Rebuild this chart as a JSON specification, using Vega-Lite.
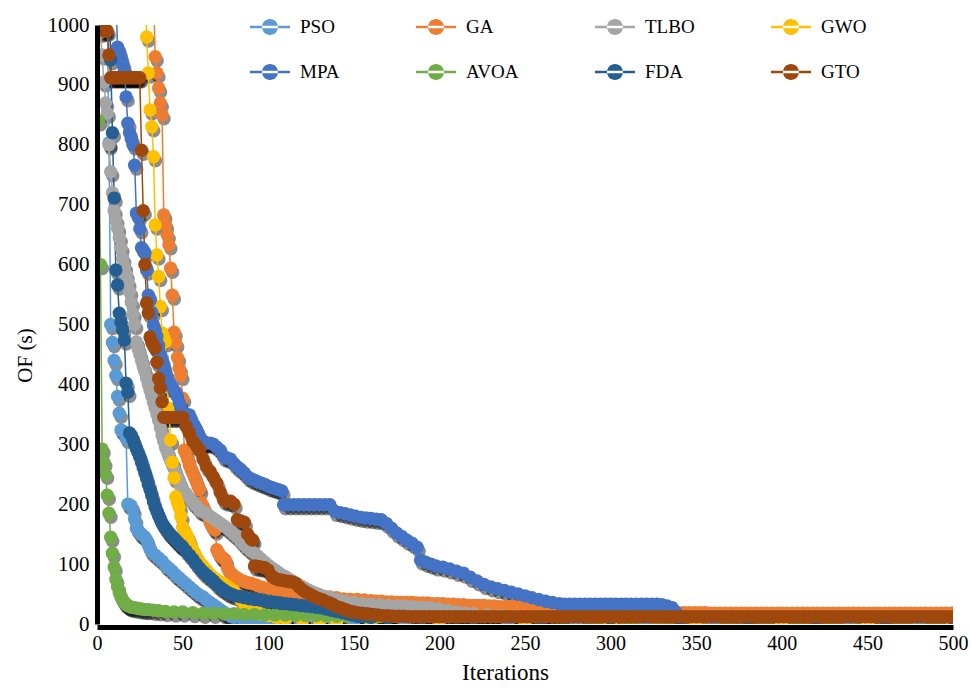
{
"$schema":"https://vega.github.io/schema/vega-lite/v6.json",
"width":856,"height":599,
"autosize":{"type":"none"},
"padding":{"left":97,"top":25,"right":18,"bottom":64},
"background":"white",
"config":{"view":{"stroke":null},"font":"Liberation Serif"},
"data":{"values":[
{"s":"PSO","i":1,"v":1400},{"s":"PSO","i":3,"v":1250},{"s":"PSO","i":5,"v":1100},{"s":"PSO","i":6,"v":1020},{"s":"PSO","i":7,"v":803},{"s":"PSO","i":8,"v":500},{"s":"PSO","i":9,"v":470},{"s":"PSO","i":10,"v":440},{"s":"PSO","i":11,"v":415},{"s":"PSO","i":12,"v":380},{"s":"PSO","i":13,"v":352},{"s":"PSO","i":14,"v":324},{"s":"PSO","i":15,"v":322},{"s":"PSO","i":16,"v":320},{"s":"PSO","i":17,"v":310},{"s":"PSO","i":18,"v":200},{"s":"PSO","i":19,"v":199},{"s":"PSO","i":20,"v":197},{"s":"PSO","i":21,"v":190},{"s":"PSO","i":22,"v":175},{"s":"PSO","i":23,"v":160},{"s":"PSO","i":24,"v":157},{"s":"PSO","i":25,"v":152},{"s":"PSO","i":26,"v":150},{"s":"PSO","i":27,"v":147},{"s":"PSO","i":28,"v":145},{"s":"PSO","i":29,"v":140},{"s":"PSO","i":30,"v":132},{"s":"PSO","i":31,"v":125},{"s":"PSO","i":32,"v":120},{"s":"PSO","i":34,"v":115},{"s":"PSO","i":36,"v":110},{"s":"PSO","i":38,"v":105},{"s":"PSO","i":40,"v":98},{"s":"PSO","i":42,"v":93},{"s":"PSO","i":44,"v":88},{"s":"PSO","i":46,"v":82},{"s":"PSO","i":48,"v":77},{"s":"PSO","i":50,"v":72},{"s":"PSO","i":52,"v":67},{"s":"PSO","i":54,"v":62},{"s":"PSO","i":56,"v":57},{"s":"PSO","i":58,"v":52},{"s":"PSO","i":60,"v":48},{"s":"PSO","i":62,"v":45},{"s":"PSO","i":64,"v":40},{"s":"PSO","i":66,"v":36},{"s":"PSO","i":68,"v":32},{"s":"PSO","i":70,"v":28},{"s":"PSO","i":72,"v":24},{"s":"PSO","i":74,"v":20},{"s":"PSO","i":76,"v":16},{"s":"PSO","i":78,"v":13},{"s":"PSO","i":80,"v":11},{"s":"PSO","i":85,"v":8},{"s":"PSO","i":90,"v":7},{"s":"PSO","i":95,"v":6},{"s":"PSO","i":100,"v":6},{"s":"PSO","i":110,"v":5},{"s":"PSO","i":120,"v":5},{"s":"PSO","i":130,"v":4},{"s":"PSO","i":140,"v":4},{"s":"PSO","i":150,"v":4},{"s":"PSO","i":160,"v":4},{"s":"PSO","i":180,"v":4},{"s":"PSO","i":200,"v":3},{"s":"PSO","i":240,"v":3},{"s":"PSO","i":280,"v":3},{"s":"PSO","i":320,"v":3},{"s":"PSO","i":360,"v":3},{"s":"PSO","i":400,"v":3},{"s":"PSO","i":440,"v":3},{"s":"PSO","i":480,"v":3},{"s":"PSO","i":500,"v":3},
{"s":"GA","i":1,"v":1500},{"s":"GA","i":10,"v":1400},{"s":"GA","i":20,"v":1300},{"s":"GA","i":30,"v":1150},{"s":"GA","i":33,"v":1050},{"s":"GA","i":34,"v":947},{"s":"GA","i":35,"v":920},{"s":"GA","i":36,"v":895},{"s":"GA","i":37,"v":870},{"s":"GA","i":38,"v":850},{"s":"GA","i":39,"v":683},{"s":"GA","i":40,"v":666},{"s":"GA","i":41,"v":650},{"s":"GA","i":42,"v":633},{"s":"GA","i":43,"v":594},{"s":"GA","i":44,"v":549},{"s":"GA","i":45,"v":487},{"s":"GA","i":46,"v":469},{"s":"GA","i":47,"v":445},{"s":"GA","i":48,"v":427},{"s":"GA","i":49,"v":415},{"s":"GA","i":50,"v":377},{"s":"GA","i":51,"v":290},{"s":"GA","i":52,"v":285},{"s":"GA","i":53,"v":275},{"s":"GA","i":54,"v":265},{"s":"GA","i":55,"v":258},{"s":"GA","i":56,"v":252},{"s":"GA","i":57,"v":245},{"s":"GA","i":58,"v":238},{"s":"GA","i":59,"v":230},{"s":"GA","i":60,"v":224},{"s":"GA","i":61,"v":202},{"s":"GA","i":62,"v":195},{"s":"GA","i":63,"v":190},{"s":"GA","i":64,"v":184},{"s":"GA","i":65,"v":179},{"s":"GA","i":66,"v":170},{"s":"GA","i":67,"v":165},{"s":"GA","i":68,"v":160},{"s":"GA","i":69,"v":157},{"s":"GA","i":70,"v":124},{"s":"GA","i":71,"v":118},{"s":"GA","i":72,"v":114},{"s":"GA","i":73,"v":111},{"s":"GA","i":74,"v":109},{"s":"GA","i":75,"v":107},{"s":"GA","i":76,"v":95},{"s":"GA","i":77,"v":90},{"s":"GA","i":78,"v":86},{"s":"GA","i":79,"v":83},{"s":"GA","i":80,"v":80},{"s":"GA","i":82,"v":77},{"s":"GA","i":84,"v":73},{"s":"GA","i":86,"v":71},{"s":"GA","i":88,"v":69},{"s":"GA","i":90,"v":68},{"s":"GA","i":93,"v":65},{"s":"GA","i":96,"v":62},{"s":"GA","i":100,"v":60},{"s":"GA","i":104,"v":58},{"s":"GA","i":108,"v":56},{"s":"GA","i":112,"v":54},{"s":"GA","i":116,"v":52},{"s":"GA","i":120,"v":50},{"s":"GA","i":124,"v":48},{"s":"GA","i":128,"v":47},{"s":"GA","i":132,"v":46},{"s":"GA","i":136,"v":45},{"s":"GA","i":140,"v":44},{"s":"GA","i":144,"v":42},{"s":"GA","i":148,"v":41},{"s":"GA","i":152,"v":41},{"s":"GA","i":156,"v":40},{"s":"GA","i":160,"v":39},{"s":"GA","i":163,"v":38},{"s":"GA","i":166,"v":38},{"s":"GA","i":169,"v":37},{"s":"GA","i":172,"v":37},{"s":"GA","i":175,"v":36},{"s":"GA","i":178,"v":36},{"s":"GA","i":181,"v":36},{"s":"GA","i":184,"v":36},{"s":"GA","i":187,"v":35},{"s":"GA","i":190,"v":35},{"s":"GA","i":193,"v":35},{"s":"GA","i":196,"v":34},{"s":"GA","i":199,"v":34},{"s":"GA","i":202,"v":34},{"s":"GA","i":205,"v":33},{"s":"GA","i":208,"v":33},{"s":"GA","i":211,"v":32},{"s":"GA","i":214,"v":32},{"s":"GA","i":217,"v":31},{"s":"GA","i":220,"v":31},{"s":"GA","i":223,"v":31},{"s":"GA","i":226,"v":31},{"s":"GA","i":229,"v":30},{"s":"GA","i":232,"v":30},{"s":"GA","i":235,"v":29},{"s":"GA","i":238,"v":29},{"s":"GA","i":241,"v":29},{"s":"GA","i":244,"v":29},{"s":"GA","i":247,"v":28},{"s":"GA","i":250,"v":28},{"s":"GA","i":253,"v":27},{"s":"GA","i":256,"v":27},{"s":"GA","i":259,"v":27},{"s":"GA","i":262,"v":26},{"s":"GA","i":265,"v":26},{"s":"GA","i":268,"v":26},{"s":"GA","i":271,"v":26},{"s":"GA","i":274,"v":25},{"s":"GA","i":277,"v":25},{"s":"GA","i":280,"v":25},{"s":"GA","i":283,"v":24},{"s":"GA","i":286,"v":24},{"s":"GA","i":289,"v":24},{"s":"GA","i":292,"v":23},{"s":"GA","i":295,"v":23},{"s":"GA","i":298,"v":23},{"s":"GA","i":301,"v":22},{"s":"GA","i":304,"v":22},{"s":"GA","i":307,"v":22},{"s":"GA","i":310,"v":21},{"s":"GA","i":313,"v":21},{"s":"GA","i":316,"v":21},{"s":"GA","i":319,"v":21},{"s":"GA","i":322,"v":20},{"s":"GA","i":325,"v":20},{"s":"GA","i":328,"v":20},{"s":"GA","i":331,"v":20},{"s":"GA","i":334,"v":20},{"s":"GA","i":337,"v":19},{"s":"GA","i":340,"v":19},{"s":"GA","i":343,"v":19},{"s":"GA","i":346,"v":19},{"s":"GA","i":349,"v":19},{"s":"GA","i":352,"v":19},{"s":"GA","i":355,"v":19},{"s":"GA","i":358,"v":18},{"s":"GA","i":361,"v":18},{"s":"GA","i":364,"v":18},{"s":"GA","i":367,"v":18},{"s":"GA","i":370,"v":18},{"s":"GA","i":373,"v":18},{"s":"GA","i":376,"v":18},{"s":"GA","i":379,"v":18},{"s":"GA","i":382,"v":18},{"s":"GA","i":385,"v":18},{"s":"GA","i":388,"v":18},{"s":"GA","i":391,"v":18},{"s":"GA","i":394,"v":18},{"s":"GA","i":397,"v":18},{"s":"GA","i":400,"v":18},{"s":"GA","i":403,"v":18},{"s":"GA","i":406,"v":18},{"s":"GA","i":409,"v":18},{"s":"GA","i":412,"v":18},{"s":"GA","i":415,"v":18},{"s":"GA","i":418,"v":18},{"s":"GA","i":421,"v":18},{"s":"GA","i":424,"v":18},{"s":"GA","i":427,"v":18},{"s":"GA","i":430,"v":18},{"s":"GA","i":433,"v":18},{"s":"GA","i":436,"v":18},{"s":"GA","i":439,"v":18},{"s":"GA","i":442,"v":18},{"s":"GA","i":445,"v":18},{"s":"GA","i":448,"v":18},{"s":"GA","i":451,"v":18},{"s":"GA","i":454,"v":18},{"s":"GA","i":457,"v":18},{"s":"GA","i":460,"v":18},{"s":"GA","i":463,"v":18},{"s":"GA","i":466,"v":18},{"s":"GA","i":469,"v":18},{"s":"GA","i":472,"v":18},{"s":"GA","i":475,"v":18},{"s":"GA","i":478,"v":18},{"s":"GA","i":481,"v":18},{"s":"GA","i":484,"v":18},{"s":"GA","i":487,"v":18},{"s":"GA","i":490,"v":18},{"s":"GA","i":493,"v":18},{"s":"GA","i":496,"v":18},{"s":"GA","i":499,"v":18},{"s":"GA","i":500,"v":18},
{"s":"TLBO","i":1,"v":1050},{"s":"TLBO","i":2,"v":988},{"s":"TLBO","i":3,"v":950},{"s":"TLBO","i":4,"v":905},{"s":"TLBO","i":5,"v":870},{"s":"TLBO","i":6,"v":853},{"s":"TLBO","i":7,"v":800},{"s":"TLBO","i":8,"v":755},{"s":"TLBO","i":9,"v":720},{"s":"TLBO","i":10,"v":690},{"s":"TLBO","i":11,"v":675},{"s":"TLBO","i":12,"v":661},{"s":"TLBO","i":13,"v":645},{"s":"TLBO","i":14,"v":628},{"s":"TLBO","i":15,"v":610},{"s":"TLBO","i":16,"v":597},{"s":"TLBO","i":17,"v":583},{"s":"TLBO","i":18,"v":570},{"s":"TLBO","i":19,"v":555},{"s":"TLBO","i":20,"v":537},{"s":"TLBO","i":21,"v":518},{"s":"TLBO","i":22,"v":500},{"s":"TLBO","i":23,"v":471},{"s":"TLBO","i":24,"v":460},{"s":"TLBO","i":25,"v":450},{"s":"TLBO","i":26,"v":440},{"s":"TLBO","i":27,"v":430},{"s":"TLBO","i":28,"v":421},{"s":"TLBO","i":29,"v":410},{"s":"TLBO","i":30,"v":400},{"s":"TLBO","i":31,"v":390},{"s":"TLBO","i":32,"v":380},{"s":"TLBO","i":33,"v":370},{"s":"TLBO","i":34,"v":360},{"s":"TLBO","i":35,"v":350},{"s":"TLBO","i":36,"v":340},{"s":"TLBO","i":37,"v":328},{"s":"TLBO","i":38,"v":315},{"s":"TLBO","i":39,"v":305},{"s":"TLBO","i":40,"v":295},{"s":"TLBO","i":41,"v":288},{"s":"TLBO","i":42,"v":280},{"s":"TLBO","i":43,"v":273},{"s":"TLBO","i":44,"v":266},{"s":"TLBO","i":45,"v":260},{"s":"TLBO","i":46,"v":252},{"s":"TLBO","i":47,"v":245},{"s":"TLBO","i":48,"v":238},{"s":"TLBO","i":49,"v":231},{"s":"TLBO","i":50,"v":225},{"s":"TLBO","i":52,"v":218},{"s":"TLBO","i":54,"v":210},{"s":"TLBO","i":56,"v":203},{"s":"TLBO","i":58,"v":197},{"s":"TLBO","i":60,"v":190},{"s":"TLBO","i":62,"v":187},{"s":"TLBO","i":64,"v":184},{"s":"TLBO","i":66,"v":180},{"s":"TLBO","i":68,"v":176},{"s":"TLBO","i":70,"v":172},{"s":"TLBO","i":72,"v":168},{"s":"TLBO","i":74,"v":164},{"s":"TLBO","i":76,"v":160},{"s":"TLBO","i":78,"v":155},{"s":"TLBO","i":80,"v":150},{"s":"TLBO","i":82,"v":145},{"s":"TLBO","i":84,"v":138},{"s":"TLBO","i":86,"v":132},{"s":"TLBO","i":88,"v":127},{"s":"TLBO","i":90,"v":122},{"s":"TLBO","i":92,"v":118},{"s":"TLBO","i":94,"v":113},{"s":"TLBO","i":96,"v":108},{"s":"TLBO","i":98,"v":103},{"s":"TLBO","i":100,"v":98},{"s":"TLBO","i":102,"v":94},{"s":"TLBO","i":104,"v":90},{"s":"TLBO","i":106,"v":86},{"s":"TLBO","i":108,"v":82},{"s":"TLBO","i":110,"v":79},{"s":"TLBO","i":112,"v":75},{"s":"TLBO","i":114,"v":72},{"s":"TLBO","i":116,"v":68},{"s":"TLBO","i":118,"v":65},{"s":"TLBO","i":120,"v":62},{"s":"TLBO","i":122,"v":59},{"s":"TLBO","i":124,"v":56},{"s":"TLBO","i":126,"v":53},{"s":"TLBO","i":128,"v":51},{"s":"TLBO","i":130,"v":49},{"s":"TLBO","i":133,"v":46},{"s":"TLBO","i":136,"v":44},{"s":"TLBO","i":140,"v":41},{"s":"TLBO","i":145,"v":38},{"s":"TLBO","i":150,"v":36},{"s":"TLBO","i":155,"v":34},{"s":"TLBO","i":160,"v":33},{"s":"TLBO","i":165,"v":32},{"s":"TLBO","i":170,"v":31},{"s":"TLBO","i":175,"v":30},{"s":"TLBO","i":180,"v":30},{"s":"TLBO","i":185,"v":29},{"s":"TLBO","i":190,"v":28},{"s":"TLBO","i":195,"v":27},{"s":"TLBO","i":200,"v":25},{"s":"TLBO","i":205,"v":22},{"s":"TLBO","i":210,"v":20},{"s":"TLBO","i":215,"v":18},{"s":"TLBO","i":220,"v":17},{"s":"TLBO","i":228,"v":15},{"s":"TLBO","i":236,"v":14},{"s":"TLBO","i":245,"v":13},{"s":"TLBO","i":260,"v":12},{"s":"TLBO","i":300,"v":12},{"s":"TLBO","i":340,"v":11},{"s":"TLBO","i":380,"v":11},{"s":"TLBO","i":420,"v":11},{"s":"TLBO","i":460,"v":11},{"s":"TLBO","i":500,"v":11},
{"s":"GWO","i":1,"v":1500},{"s":"GWO","i":10,"v":1400},{"s":"GWO","i":20,"v":1250},{"s":"GWO","i":27,"v":1100},{"s":"GWO","i":28,"v":1050},{"s":"GWO","i":29,"v":980},{"s":"GWO","i":30,"v":920},{"s":"GWO","i":31,"v":858},{"s":"GWO","i":32,"v":830},{"s":"GWO","i":33,"v":780},{"s":"GWO","i":34,"v":666},{"s":"GWO","i":35,"v":616},{"s":"GWO","i":36,"v":580},{"s":"GWO","i":37,"v":530},{"s":"GWO","i":38,"v":486},{"s":"GWO","i":39,"v":478},{"s":"GWO","i":40,"v":471},{"s":"GWO","i":41,"v":396},{"s":"GWO","i":42,"v":360},{"s":"GWO","i":43,"v":307},{"s":"GWO","i":44,"v":270},{"s":"GWO","i":45,"v":244},{"s":"GWO","i":46,"v":212},{"s":"GWO","i":47,"v":203},{"s":"GWO","i":48,"v":195},{"s":"GWO","i":49,"v":180},{"s":"GWO","i":50,"v":162},{"s":"GWO","i":51,"v":155},{"s":"GWO","i":52,"v":150},{"s":"GWO","i":53,"v":145},{"s":"GWO","i":54,"v":137},{"s":"GWO","i":55,"v":129},{"s":"GWO","i":56,"v":123},{"s":"GWO","i":57,"v":117},{"s":"GWO","i":58,"v":112},{"s":"GWO","i":59,"v":107},{"s":"GWO","i":60,"v":103},{"s":"GWO","i":62,"v":97},{"s":"GWO","i":64,"v":90},{"s":"GWO","i":66,"v":83},{"s":"GWO","i":68,"v":78},{"s":"GWO","i":70,"v":74},{"s":"GWO","i":72,"v":70},{"s":"GWO","i":74,"v":67},{"s":"GWO","i":76,"v":63},{"s":"GWO","i":78,"v":59},{"s":"GWO","i":80,"v":55},{"s":"GWO","i":82,"v":48},{"s":"GWO","i":84,"v":40},{"s":"GWO","i":86,"v":34},{"s":"GWO","i":88,"v":29},{"s":"GWO","i":90,"v":25},{"s":"GWO","i":93,"v":21},{"s":"GWO","i":96,"v":17},{"s":"GWO","i":100,"v":14},{"s":"GWO","i":105,"v":11},{"s":"GWO","i":110,"v":9},{"s":"GWO","i":120,"v":7},{"s":"GWO","i":130,"v":6},{"s":"GWO","i":140,"v":5},{"s":"GWO","i":160,"v":4},{"s":"GWO","i":200,"v":3},{"s":"GWO","i":250,"v":3},{"s":"GWO","i":300,"v":2},{"s":"GWO","i":350,"v":2},{"s":"GWO","i":400,"v":2},{"s":"GWO","i":450,"v":2},{"s":"GWO","i":500,"v":2},
{"s":"MPA","i":1,"v":1500},{"s":"MPA","i":5,"v":1350},{"s":"MPA","i":10,"v":1100},{"s":"MPA","i":11,"v":1050},{"s":"MPA","i":12,"v":963},{"s":"MPA","i":13,"v":955},{"s":"MPA","i":14,"v":945},{"s":"MPA","i":15,"v":935},{"s":"MPA","i":16,"v":925},{"s":"MPA","i":17,"v":880},{"s":"MPA","i":18,"v":836},{"s":"MPA","i":19,"v":820},{"s":"MPA","i":20,"v":810},{"s":"MPA","i":21,"v":800},{"s":"MPA","i":22,"v":766},{"s":"MPA","i":23,"v":686},{"s":"MPA","i":24,"v":680},{"s":"MPA","i":25,"v":660},{"s":"MPA","i":26,"v":628},{"s":"MPA","i":27,"v":625},{"s":"MPA","i":28,"v":620},{"s":"MPA","i":29,"v":591},{"s":"MPA","i":30,"v":549},{"s":"MPA","i":31,"v":540},{"s":"MPA","i":32,"v":520},{"s":"MPA","i":33,"v":499},{"s":"MPA","i":34,"v":490},{"s":"MPA","i":35,"v":480},{"s":"MPA","i":36,"v":465},{"s":"MPA","i":37,"v":450},{"s":"MPA","i":38,"v":440},{"s":"MPA","i":39,"v":430},{"s":"MPA","i":40,"v":420},{"s":"MPA","i":41,"v":411},{"s":"MPA","i":42,"v":405},{"s":"MPA","i":43,"v":400},{"s":"MPA","i":44,"v":395},{"s":"MPA","i":45,"v":390},{"s":"MPA","i":46,"v":387},{"s":"MPA","i":47,"v":380},{"s":"MPA","i":48,"v":370},{"s":"MPA","i":49,"v":360},{"s":"MPA","i":50,"v":352},{"s":"MPA","i":51,"v":350},{"s":"MPA","i":52,"v":350},{"s":"MPA","i":53,"v":349},{"s":"MPA","i":54,"v":349},{"s":"MPA","i":55,"v":340},{"s":"MPA","i":56,"v":335},{"s":"MPA","i":57,"v":330},{"s":"MPA","i":58,"v":325},{"s":"MPA","i":59,"v":318},{"s":"MPA","i":60,"v":312},{"s":"MPA","i":61,"v":308},{"s":"MPA","i":62,"v":305},{"s":"MPA","i":63,"v":303},{"s":"MPA","i":64,"v":302},{"s":"MPA","i":66,"v":302},{"s":"MPA","i":68,"v":300},{"s":"MPA","i":70,"v":295},{"s":"MPA","i":72,"v":290},{"s":"MPA","i":74,"v":279},{"s":"MPA","i":76,"v":277},{"s":"MPA","i":78,"v":275},{"s":"MPA","i":80,"v":268},{"s":"MPA","i":82,"v":262},{"s":"MPA","i":84,"v":258},{"s":"MPA","i":86,"v":252},{"s":"MPA","i":88,"v":246},{"s":"MPA","i":90,"v":242},{"s":"MPA","i":92,"v":240},{"s":"MPA","i":94,"v":237},{"s":"MPA","i":96,"v":235},{"s":"MPA","i":98,"v":233},{"s":"MPA","i":100,"v":230},{"s":"MPA","i":102,"v":228},{"s":"MPA","i":104,"v":226},{"s":"MPA","i":106,"v":224},{"s":"MPA","i":108,"v":222},{"s":"MPA","i":109,"v":199},{"s":"MPA","i":112,"v":199},{"s":"MPA","i":115,"v":199},{"s":"MPA","i":118,"v":199},{"s":"MPA","i":121,"v":199},{"s":"MPA","i":124,"v":199},{"s":"MPA","i":127,"v":199},{"s":"MPA","i":130,"v":199},{"s":"MPA","i":133,"v":199},{"s":"MPA","i":136,"v":199},{"s":"MPA","i":139,"v":188},{"s":"MPA","i":142,"v":186},{"s":"MPA","i":145,"v":184},{"s":"MPA","i":148,"v":182},{"s":"MPA","i":151,"v":180},{"s":"MPA","i":154,"v":178},{"s":"MPA","i":157,"v":177},{"s":"MPA","i":160,"v":176},{"s":"MPA","i":163,"v":175},{"s":"MPA","i":166,"v":174},{"s":"MPA","i":169,"v":168},{"s":"MPA","i":172,"v":160},{"s":"MPA","i":175,"v":152},{"s":"MPA","i":178,"v":146},{"s":"MPA","i":181,"v":140},{"s":"MPA","i":184,"v":135},{"s":"MPA","i":187,"v":128},{"s":"MPA","i":189,"v":107},{"s":"MPA","i":192,"v":103},{"s":"MPA","i":195,"v":100},{"s":"MPA","i":198,"v":97},{"s":"MPA","i":202,"v":95},{"s":"MPA","i":206,"v":92},{"s":"MPA","i":210,"v":88},{"s":"MPA","i":214,"v":85},{"s":"MPA","i":218,"v":78},{"s":"MPA","i":222,"v":72},{"s":"MPA","i":226,"v":66},{"s":"MPA","i":230,"v":62},{"s":"MPA","i":234,"v":59},{"s":"MPA","i":238,"v":56},{"s":"MPA","i":242,"v":53},{"s":"MPA","i":246,"v":50},{"s":"MPA","i":250,"v":47},{"s":"MPA","i":254,"v":44},{"s":"MPA","i":258,"v":41},{"s":"MPA","i":262,"v":38},{"s":"MPA","i":266,"v":36},{"s":"MPA","i":270,"v":34},{"s":"MPA","i":273,"v":33},{"s":"MPA","i":276,"v":33},{"s":"MPA","i":279,"v":33},{"s":"MPA","i":282,"v":33},{"s":"MPA","i":285,"v":33},{"s":"MPA","i":288,"v":33},{"s":"MPA","i":291,"v":33},{"s":"MPA","i":294,"v":33},{"s":"MPA","i":297,"v":33},{"s":"MPA","i":300,"v":33},{"s":"MPA","i":303,"v":33},{"s":"MPA","i":306,"v":33},{"s":"MPA","i":309,"v":33},{"s":"MPA","i":312,"v":33},{"s":"MPA","i":315,"v":33},{"s":"MPA","i":318,"v":33},{"s":"MPA","i":321,"v":33},{"s":"MPA","i":324,"v":33},{"s":"MPA","i":327,"v":33},{"s":"MPA","i":330,"v":32},{"s":"MPA","i":333,"v":30},{"s":"MPA","i":336,"v":27},{"s":"MPA","i":338,"v":20},{"s":"MPA","i":340,"v":14},{"s":"MPA","i":344,"v":12},{"s":"MPA","i":360,"v":12},{"s":"MPA","i":380,"v":11},{"s":"MPA","i":420,"v":11},{"s":"MPA","i":460,"v":11},{"s":"MPA","i":500,"v":11},
{"s":"AVOA","i":1,"v":840},{"s":"AVOA","i":2,"v":600},{"s":"AVOA","i":3,"v":292},{"s":"AVOA","i":4,"v":270},{"s":"AVOA","i":5,"v":250},{"s":"AVOA","i":6,"v":215},{"s":"AVOA","i":7,"v":185},{"s":"AVOA","i":8,"v":145},{"s":"AVOA","i":9,"v":118},{"s":"AVOA","i":10,"v":95},{"s":"AVOA","i":11,"v":75},{"s":"AVOA","i":12,"v":62},{"s":"AVOA","i":13,"v":52},{"s":"AVOA","i":14,"v":45},{"s":"AVOA","i":15,"v":40},{"s":"AVOA","i":16,"v":36},{"s":"AVOA","i":17,"v":33},{"s":"AVOA","i":18,"v":31},{"s":"AVOA","i":19,"v":29},{"s":"AVOA","i":20,"v":28},{"s":"AVOA","i":22,"v":27},{"s":"AVOA","i":24,"v":26},{"s":"AVOA","i":26,"v":25},{"s":"AVOA","i":28,"v":24},{"s":"AVOA","i":30,"v":24},{"s":"AVOA","i":33,"v":23},{"s":"AVOA","i":36,"v":22},{"s":"AVOA","i":40,"v":21},{"s":"AVOA","i":45,"v":20},{"s":"AVOA","i":50,"v":20},{"s":"AVOA","i":56,"v":19},{"s":"AVOA","i":62,"v":18},{"s":"AVOA","i":68,"v":18},{"s":"AVOA","i":74,"v":17},{"s":"AVOA","i":80,"v":17},{"s":"AVOA","i":86,"v":16},{"s":"AVOA","i":92,"v":16},{"s":"AVOA","i":98,"v":15},{"s":"AVOA","i":104,"v":15},{"s":"AVOA","i":110,"v":15},{"s":"AVOA","i":116,"v":14},{"s":"AVOA","i":122,"v":14},{"s":"AVOA","i":128,"v":14},{"s":"AVOA","i":134,"v":13},{"s":"AVOA","i":140,"v":13},{"s":"AVOA","i":146,"v":13},{"s":"AVOA","i":152,"v":13},{"s":"AVOA","i":158,"v":12},{"s":"AVOA","i":164,"v":12},{"s":"AVOA","i":170,"v":12},{"s":"AVOA","i":190,"v":12},{"s":"AVOA","i":210,"v":12},{"s":"AVOA","i":230,"v":12},{"s":"AVOA","i":260,"v":12},{"s":"AVOA","i":300,"v":11},{"s":"AVOA","i":340,"v":11},{"s":"AVOA","i":380,"v":11},{"s":"AVOA","i":420,"v":11},{"s":"AVOA","i":460,"v":11},{"s":"AVOA","i":500,"v":11},
{"s":"FDA","i":1,"v":1500},{"s":"FDA","i":4,"v":1250},{"s":"FDA","i":7,"v":1050},{"s":"FDA","i":8,"v":942},{"s":"FDA","i":9,"v":820},{"s":"FDA","i":10,"v":711},{"s":"FDA","i":11,"v":591},{"s":"FDA","i":12,"v":566},{"s":"FDA","i":13,"v":519},{"s":"FDA","i":14,"v":504},{"s":"FDA","i":15,"v":491},{"s":"FDA","i":16,"v":474},{"s":"FDA","i":17,"v":402},{"s":"FDA","i":18,"v":387},{"s":"FDA","i":19,"v":319},{"s":"FDA","i":20,"v":315},{"s":"FDA","i":21,"v":308},{"s":"FDA","i":22,"v":300},{"s":"FDA","i":23,"v":293},{"s":"FDA","i":24,"v":286},{"s":"FDA","i":25,"v":279},{"s":"FDA","i":26,"v":270},{"s":"FDA","i":27,"v":261},{"s":"FDA","i":28,"v":252},{"s":"FDA","i":29,"v":243},{"s":"FDA","i":30,"v":233},{"s":"FDA","i":31,"v":224},{"s":"FDA","i":32,"v":214},{"s":"FDA","i":33,"v":204},{"s":"FDA","i":34,"v":195},{"s":"FDA","i":35,"v":188},{"s":"FDA","i":36,"v":181},{"s":"FDA","i":37,"v":174},{"s":"FDA","i":38,"v":168},{"s":"FDA","i":39,"v":164},{"s":"FDA","i":40,"v":160},{"s":"FDA","i":41,"v":156},{"s":"FDA","i":42,"v":152},{"s":"FDA","i":43,"v":149},{"s":"FDA","i":44,"v":146},{"s":"FDA","i":45,"v":143},{"s":"FDA","i":46,"v":140},{"s":"FDA","i":47,"v":137},{"s":"FDA","i":48,"v":134},{"s":"FDA","i":49,"v":131},{"s":"FDA","i":50,"v":129},{"s":"FDA","i":52,"v":122},{"s":"FDA","i":54,"v":115},{"s":"FDA","i":56,"v":108},{"s":"FDA","i":58,"v":100},{"s":"FDA","i":60,"v":93},{"s":"FDA","i":62,"v":87},{"s":"FDA","i":64,"v":82},{"s":"FDA","i":66,"v":77},{"s":"FDA","i":68,"v":72},{"s":"FDA","i":70,"v":66},{"s":"FDA","i":72,"v":61},{"s":"FDA","i":74,"v":57},{"s":"FDA","i":76,"v":53},{"s":"FDA","i":78,"v":50},{"s":"FDA","i":80,"v":48},{"s":"FDA","i":83,"v":46},{"s":"FDA","i":86,"v":44},{"s":"FDA","i":89,"v":42},{"s":"FDA","i":92,"v":41},{"s":"FDA","i":95,"v":40},{"s":"FDA","i":98,"v":38},{"s":"FDA","i":101,"v":37},{"s":"FDA","i":104,"v":36},{"s":"FDA","i":107,"v":35},{"s":"FDA","i":110,"v":34},{"s":"FDA","i":113,"v":33},{"s":"FDA","i":116,"v":32},{"s":"FDA","i":119,"v":31},{"s":"FDA","i":122,"v":30},{"s":"FDA","i":125,"v":29},{"s":"FDA","i":128,"v":28},{"s":"FDA","i":131,"v":27},{"s":"FDA","i":134,"v":25},{"s":"FDA","i":137,"v":23},{"s":"FDA","i":140,"v":21},{"s":"FDA","i":143,"v":19},{"s":"FDA","i":146,"v":17},{"s":"FDA","i":149,"v":15},{"s":"FDA","i":152,"v":13},{"s":"FDA","i":155,"v":12},{"s":"FDA","i":160,"v":11},{"s":"FDA","i":170,"v":10},{"s":"FDA","i":190,"v":10},{"s":"FDA","i":220,"v":10},{"s":"FDA","i":260,"v":9},{"s":"FDA","i":300,"v":9},{"s":"FDA","i":340,"v":9},{"s":"FDA","i":380,"v":9},{"s":"FDA","i":420,"v":9},{"s":"FDA","i":460,"v":9},{"s":"FDA","i":500,"v":9},
{"s":"GTO","i":1,"v":1100},{"s":"GTO","i":2,"v":1050},{"s":"GTO","i":3,"v":1020},{"s":"GTO","i":4,"v":990},{"s":"GTO","i":5,"v":990},{"s":"GTO","i":6,"v":990},{"s":"GTO","i":7,"v":950},{"s":"GTO","i":8,"v":912},{"s":"GTO","i":9,"v":912},{"s":"GTO","i":10,"v":912},{"s":"GTO","i":11,"v":912},{"s":"GTO","i":12,"v":912},{"s":"GTO","i":13,"v":912},{"s":"GTO","i":14,"v":912},{"s":"GTO","i":15,"v":912},{"s":"GTO","i":16,"v":912},{"s":"GTO","i":17,"v":912},{"s":"GTO","i":18,"v":912},{"s":"GTO","i":19,"v":912},{"s":"GTO","i":20,"v":912},{"s":"GTO","i":21,"v":912},{"s":"GTO","i":22,"v":912},{"s":"GTO","i":23,"v":912},{"s":"GTO","i":24,"v":912},{"s":"GTO","i":25,"v":912},{"s":"GTO","i":26,"v":791},{"s":"GTO","i":27,"v":690},{"s":"GTO","i":28,"v":600},{"s":"GTO","i":29,"v":536},{"s":"GTO","i":30,"v":519},{"s":"GTO","i":31,"v":479},{"s":"GTO","i":32,"v":470},{"s":"GTO","i":33,"v":465},{"s":"GTO","i":34,"v":461},{"s":"GTO","i":35,"v":437},{"s":"GTO","i":36,"v":410},{"s":"GTO","i":37,"v":394},{"s":"GTO","i":38,"v":371},{"s":"GTO","i":39,"v":345},{"s":"GTO","i":40,"v":345},{"s":"GTO","i":42,"v":345},{"s":"GTO","i":44,"v":345},{"s":"GTO","i":46,"v":345},{"s":"GTO","i":48,"v":345},{"s":"GTO","i":50,"v":345},{"s":"GTO","i":52,"v":330},{"s":"GTO","i":54,"v":319},{"s":"GTO","i":56,"v":305},{"s":"GTO","i":58,"v":298},{"s":"GTO","i":60,"v":290},{"s":"GTO","i":62,"v":275},{"s":"GTO","i":64,"v":262},{"s":"GTO","i":66,"v":255},{"s":"GTO","i":68,"v":245},{"s":"GTO","i":70,"v":235},{"s":"GTO","i":72,"v":220},{"s":"GTO","i":74,"v":207},{"s":"GTO","i":76,"v":205},{"s":"GTO","i":78,"v":205},{"s":"GTO","i":80,"v":200},{"s":"GTO","i":82,"v":174},{"s":"GTO","i":84,"v":172},{"s":"GTO","i":86,"v":170},{"s":"GTO","i":88,"v":150},{"s":"GTO","i":90,"v":142},{"s":"GTO","i":91,"v":140},{"s":"GTO","i":92,"v":97},{"s":"GTO","i":94,"v":96},{"s":"GTO","i":96,"v":95},{"s":"GTO","i":98,"v":94},{"s":"GTO","i":100,"v":90},{"s":"GTO","i":102,"v":80},{"s":"GTO","i":104,"v":76},{"s":"GTO","i":106,"v":74},{"s":"GTO","i":108,"v":73},{"s":"GTO","i":110,"v":72},{"s":"GTO","i":112,"v":71},{"s":"GTO","i":114,"v":70},{"s":"GTO","i":116,"v":68},{"s":"GTO","i":118,"v":62},{"s":"GTO","i":120,"v":57},{"s":"GTO","i":122,"v":53},{"s":"GTO","i":124,"v":50},{"s":"GTO","i":126,"v":47},{"s":"GTO","i":128,"v":44},{"s":"GTO","i":130,"v":42},{"s":"GTO","i":132,"v":40},{"s":"GTO","i":134,"v":37},{"s":"GTO","i":136,"v":35},{"s":"GTO","i":138,"v":32},{"s":"GTO","i":140,"v":29},{"s":"GTO","i":142,"v":27},{"s":"GTO","i":144,"v":25},{"s":"GTO","i":146,"v":23},{"s":"GTO","i":148,"v":21},{"s":"GTO","i":150,"v":20},{"s":"GTO","i":152,"v":19},{"s":"GTO","i":155,"v":18},{"s":"GTO","i":158,"v":17},{"s":"GTO","i":161,"v":16},{"s":"GTO","i":164,"v":15},{"s":"GTO","i":167,"v":14},{"s":"GTO","i":170,"v":14},{"s":"GTO","i":173,"v":13},{"s":"GTO","i":176,"v":13},{"s":"GTO","i":179,"v":13},{"s":"GTO","i":182,"v":12},{"s":"GTO","i":185,"v":12},{"s":"GTO","i":188,"v":12},{"s":"GTO","i":191,"v":12},{"s":"GTO","i":194,"v":12},{"s":"GTO","i":197,"v":12},{"s":"GTO","i":200,"v":12},{"s":"GTO","i":203,"v":12},{"s":"GTO","i":206,"v":12},{"s":"GTO","i":209,"v":12},{"s":"GTO","i":212,"v":12},{"s":"GTO","i":215,"v":12},{"s":"GTO","i":218,"v":12},{"s":"GTO","i":221,"v":12},{"s":"GTO","i":224,"v":12},{"s":"GTO","i":227,"v":12},{"s":"GTO","i":230,"v":12},{"s":"GTO","i":233,"v":12},{"s":"GTO","i":236,"v":12},{"s":"GTO","i":239,"v":12},{"s":"GTO","i":242,"v":12},{"s":"GTO","i":245,"v":12},{"s":"GTO","i":248,"v":12},{"s":"GTO","i":251,"v":12},{"s":"GTO","i":254,"v":12},{"s":"GTO","i":257,"v":12},{"s":"GTO","i":260,"v":12},{"s":"GTO","i":263,"v":12},{"s":"GTO","i":266,"v":12},{"s":"GTO","i":269,"v":12},{"s":"GTO","i":272,"v":12},{"s":"GTO","i":275,"v":12},{"s":"GTO","i":278,"v":12},{"s":"GTO","i":281,"v":12},{"s":"GTO","i":284,"v":12},{"s":"GTO","i":287,"v":12},{"s":"GTO","i":290,"v":12},{"s":"GTO","i":293,"v":12},{"s":"GTO","i":296,"v":12},{"s":"GTO","i":299,"v":12},{"s":"GTO","i":302,"v":12},{"s":"GTO","i":305,"v":12},{"s":"GTO","i":308,"v":12},{"s":"GTO","i":311,"v":12},{"s":"GTO","i":314,"v":12},{"s":"GTO","i":317,"v":12},{"s":"GTO","i":320,"v":12},{"s":"GTO","i":323,"v":12},{"s":"GTO","i":326,"v":12},{"s":"GTO","i":329,"v":12},{"s":"GTO","i":332,"v":12},{"s":"GTO","i":335,"v":12},{"s":"GTO","i":338,"v":12},{"s":"GTO","i":341,"v":12},{"s":"GTO","i":344,"v":12},{"s":"GTO","i":347,"v":12},{"s":"GTO","i":350,"v":12},{"s":"GTO","i":353,"v":12},{"s":"GTO","i":356,"v":12},{"s":"GTO","i":359,"v":12},{"s":"GTO","i":362,"v":12},{"s":"GTO","i":365,"v":12},{"s":"GTO","i":368,"v":12},{"s":"GTO","i":371,"v":12},{"s":"GTO","i":374,"v":12},{"s":"GTO","i":377,"v":12},{"s":"GTO","i":380,"v":12},{"s":"GTO","i":383,"v":12},{"s":"GTO","i":386,"v":12},{"s":"GTO","i":389,"v":12},{"s":"GTO","i":392,"v":12},{"s":"GTO","i":395,"v":12},{"s":"GTO","i":398,"v":12},{"s":"GTO","i":401,"v":12},{"s":"GTO","i":404,"v":12},{"s":"GTO","i":407,"v":12},{"s":"GTO","i":410,"v":12},{"s":"GTO","i":413,"v":12},{"s":"GTO","i":416,"v":12},{"s":"GTO","i":419,"v":12},{"s":"GTO","i":422,"v":12},{"s":"GTO","i":425,"v":12},{"s":"GTO","i":428,"v":12},{"s":"GTO","i":431,"v":12},{"s":"GTO","i":434,"v":12},{"s":"GTO","i":437,"v":12},{"s":"GTO","i":440,"v":12},{"s":"GTO","i":443,"v":12},{"s":"GTO","i":446,"v":12},{"s":"GTO","i":449,"v":12},{"s":"GTO","i":452,"v":12},{"s":"GTO","i":455,"v":12},{"s":"GTO","i":458,"v":12},{"s":"GTO","i":461,"v":12},{"s":"GTO","i":464,"v":12},{"s":"GTO","i":467,"v":12},{"s":"GTO","i":470,"v":12},{"s":"GTO","i":473,"v":12},{"s":"GTO","i":476,"v":12},{"s":"GTO","i":479,"v":12},{"s":"GTO","i":482,"v":12},{"s":"GTO","i":485,"v":12},{"s":"GTO","i":488,"v":12},{"s":"GTO","i":491,"v":12},{"s":"GTO","i":494,"v":12},{"s":"GTO","i":497,"v":12},{"s":"GTO","i":500,"v":12}
]},
"encoding":{
"x":{"field":"i","type":"quantitative","scale":{"domain":[0,500],"nice":false},"axis":{"values":[0,50,100,150,200,250,300,350,400,450,500],"title":"Iterations","titleFont":"Liberation Serif","titleFontSize":23,"titleFontWeight":"normal","titleColor":"black","titleX":408,"titlePadding":8,"labelFont":"Liberation Serif","labelFontSize":20,"labelColor":"black","labelPadding":6,"ticks":false,"grid":false,"domainColor":"black","domainWidth":5,"offset":3,"zindex":1,"labelFlush":false}},
"y":{"field":"v","type":"quantitative","scale":{"domain":[0,1000],"nice":false},"axis":{"values":[0,100,200,300,400,500,600,700,800,900,1000],"format":"d","title":"OF (s)","titleFont":"Liberation Serif","titleFontSize":21,"titleFontWeight":"normal","titleColor":"black","titleY":330,"titlePadding":12,"labelFont":"Liberation Serif","labelFontSize":21,"labelColor":"black","labelPadding":8,"ticks":false,"grid":false,"domainColor":"black","domainWidth":5,"zindex":1,"labelFlush":false}},
"color":{"field":"s","type":"nominal","scale":{"domain":["PSO","GA","TLBO","GWO","MPA","AVOA","FDA","GTO"],"range":["#5B9BD5","#ED7D31","#A5A5A5","#FFC000","#4472C4","#70AD47","#255E91","#9E480E"]},"legend":{"orient":"none","legendX":153,"legendY":-18,"direction":"horizontal","columns":4,"title":null,"symbolType":"M-1,-0.06H1V0.06H-1Z M-0.4,0A0.4,0.4 0 1,0 0.4,0A0.4,0.4 0 1,0 -0.4,0Z","symbolSize":1600,"symbolStrokeWidth":0,"symbolOpacity":1,"labelFont":"Liberation Serif","labelFontSize":19,"labelColor":"black","labelOffset":10,"columnPadding":76,"rowPadding":15,"padding":0}}
},
"layer":[
{"mark":{"type":"point","filled":true,"size":180,"opacity":0.45,"xOffset":2,"yOffset":4,"clip":true},"encoding":{"color":{"value":"black"},"detail":{"field":"s"}}},
{"mark":{"type":"line","strokeWidth":1.5,"clip":true},"encoding":{"order":{"field":"i"}}},
{"mark":{"type":"point","filled":true,"size":180,"opacity":1,"clip":true}}
]
}
